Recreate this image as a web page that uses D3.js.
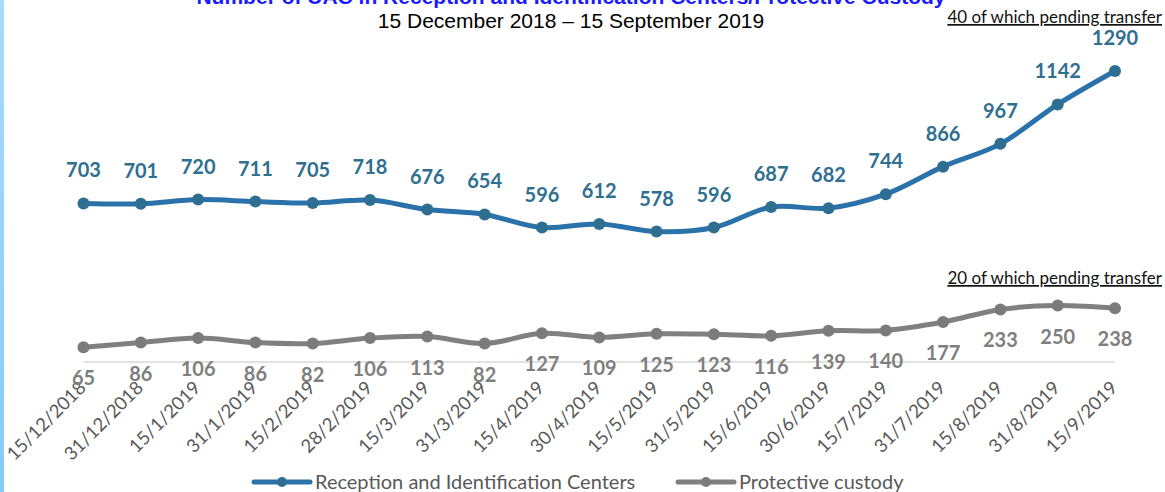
<!DOCTYPE html>
<html>
<head>
<meta charset="utf-8">
<script src="https://cdn.jsdelivr.net/npm/d3@7"></script>
<style>
  body { margin: 0; background: #fff; }
  svg { display: block; }
</style>
</head>
<body>
<script>
// dates on the x axis
const dates = ["15/12/2018", "31/12/2018", "15/1/2019", "31/1/2019", "15/2/2019", "28/2/2019",
  "15/3/2019", "31/3/2019", "15/4/2019", "30/4/2019", "15/5/2019", "31/5/2019", "15/6/2019",
  "30/6/2019", "15/7/2019", "31/7/2019", "15/8/2019", "31/8/2019", "15/9/2019"];

// Reception and Identification Centers
const ricValues = [703, 701, 720, 711, 705, 718, 676, 654, 596, 612, 578, 596, 687, 682, 744, 866, 967, 1142, 1290];

// Protective custody
const custodyValues = [65, 86, 106, 86, 82, 106, 113, 82, 127, 109, 125, 123, 116, 139, 140, 177, 233, 250, 238];

const seriesNames = ["Reception and Identification Centers", "Protective custody"];
const notes = ["40 of which pending transfer", "20 of which pending transfer"];

const width = 1165, height = 492;
const calibri = "Lato, 'Open Sans', sans-serif";

const series = [
  { name: seriesNames[0], values: ricValues, line: "#2c72aa", dot: "#2e6e91", label: "#2f6f90", dy: -33 },
  { name: seriesNames[1], values: custodyValues, line: "#808080", dot: "#7b7b7b", label: "#7f7f7f", dy: 31 }
];

const svg = d3.select("body").append("svg")
  .attr("width", width)
  .attr("height", height);

// light blue strip on the left edge
const grad = svg.append("defs").append("linearGradient")
  .attr("id", "edge").attr("x1", 0).attr("y1", 0).attr("x2", 0).attr("y2", 1);
grad.append("stop").attr("offset", "0%").attr("stop-color", "#a8daff");
grad.append("stop").attr("offset", "100%").attr("stop-color", "#86cbfb");
svg.append("rect").attr("x", 0).attr("y", 0).attr("width", 4).attr("height", height)
  .attr("fill", "url(#edge)");

const x = d3.scalePoint()
  .domain(dates)
  .range([83.5, 1115]);

const y = d3.scaleLinear()
  .domain([0, 1290])
  .range([362, 71]);

// category axis (line only, labels drawn rotated)
const xAxis = svg.append("g")
  .attr("transform", `translate(0,${y(0)})`)
  .call(d3.axisBottom(x).tickSize(0).tickPadding(0));
xAxis.select(".domain").attr("stroke", "#d9d9d9").attr("stroke-width", 1.5)
  .attr("d", `M${x(dates[0])},0H${x(dates[dates.length - 1])}`);
xAxis.selectAll(".tick text")
  .attr("font-family", calibri)
  .attr("font-size", 18.5)
  .attr("fill", "#595959")
  .attr("text-anchor", "end")
  .attr("dy", 0)
  .attr("y", 0)
  .attr("transform", "translate(3,27) rotate(-45)");

const line = d3.line()
  .x((d, i) => x(dates[i]))
  .y(d => y(d))
  .curve(d3.curveCatmullRom);

series.forEach(s => {
  svg.append("path")
    .datum(s.values)
    .attr("fill", "none")
    .attr("stroke", s.line)
    .attr("stroke-width", 5)
    .attr("stroke-linecap", "round")
    .attr("d", line);

  svg.append("g").selectAll("circle")
    .data(s.values)
    .enter().append("circle")
    .attr("cx", (d, i) => x(dates[i]))
    .attr("cy", d => y(d))
    .attr("r", 6)
    .attr("fill", s.dot);

  svg.append("g").selectAll("text")
    .data(s.values)
    .enter().append("text")
    .attr("x", (d, i) => x(dates[i]))
    .attr("y", d => y(d) + s.dy)
    .attr("dy", "0.35em")
    .attr("text-anchor", "middle")
    .attr("font-family", calibri)
    .attr("font-weight", "bold")
    .attr("font-size", 20)
    .attr("fill", s.label)
    .text(d => d);
});

// title (cut off at the top, as in the original) and subtitle
svg.append("text")
  .attr("x", 571).attr("y", 4)
  .attr("text-anchor", "middle")
  .attr("font-family", "'Liberation Sans', Arial, sans-serif")
  .attr("font-weight", "bold")
  .attr("font-size", 21)
  .attr("fill", "#1a1aff")
  .text("Number of UAC in Reception and Identification Centers/Protective Custody");

svg.append("text")
  .attr("x", 571).attr("y", 27.5)
  .attr("text-anchor", "middle")
  .attr("font-family", "'Liberation Sans', Arial, sans-serif")
  .attr("font-size", 21)
  .attr("fill", "#000")
  .text("15 December 2018 \u2013 15 September 2019");

// notes
[[notes[0], 23], [notes[1], 284]].forEach(([t, yy]) => {
  svg.append("text")
    .attr("x", 1162).attr("y", yy)
    .attr("text-anchor", "end")
    .attr("font-family", calibri)
    .attr("font-size", 17)
    .attr("fill", "#111")
    .attr("text-decoration", "underline")
    .text(t);
});

// legend
const legendY = 482;
const legendItems = [
  { s: series[0], x0: 254 },
  { s: series[1], x0: 678 }
];
legendItems.forEach(({ s, x0 }) => {
  const g = svg.append("g").attr("transform", `translate(${x0},${legendY})`);
  g.append("line").attr("x1", 0).attr("x2", 56).attr("y1", 0).attr("y2", 0)
    .attr("stroke", s.line).attr("stroke-width", 5).attr("stroke-linecap", "round");
  g.append("circle").attr("cx", 28).attr("cy", 0).attr("r", 5).attr("fill", s.dot);
  g.append("text").attr("x", 61).attr("y", 0).attr("dy", "0.35em")
    .attr("font-family", calibri).attr("font-size", 20).attr("fill", "#595959")
    .text(s.name);
});
</script>
</body>
</html>
